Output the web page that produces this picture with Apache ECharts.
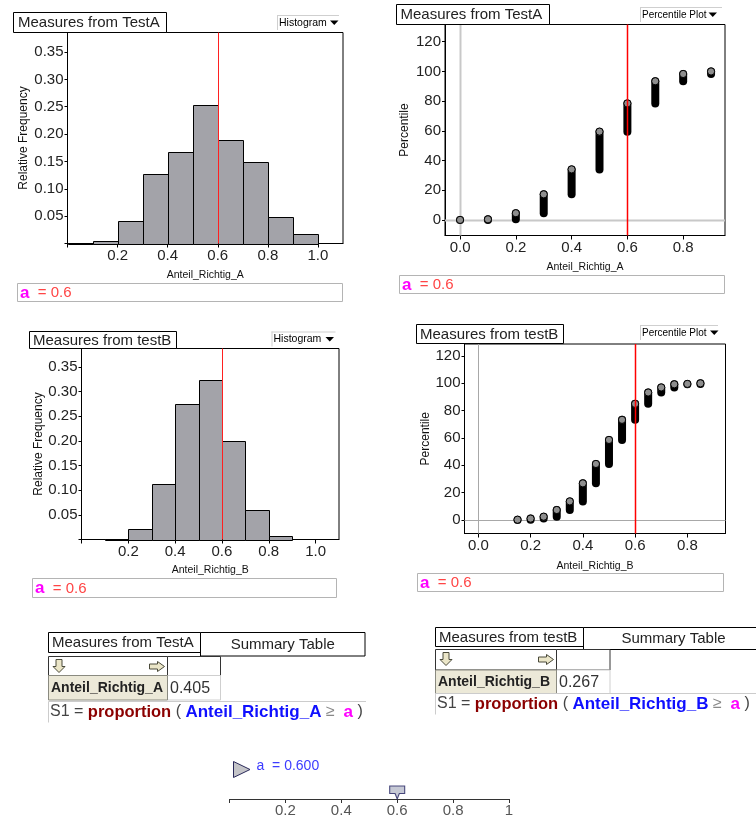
<!DOCTYPE html>
<html><head><meta charset="utf-8">
<script src="https://cdn.jsdelivr.net/npm/echarts@6/dist/echarts.min.js"></script>
<style>html,body{margin:0;padding:0;background:#fff}#c{width:756px;height:819px}</style>
</head><body><div id="c"></div>
<script>
// ---------- data ----------
const A_VALUE = 0.6;
const BIN_WIDTH = 0.1;
const BIN_STARTS = [0, 0.1, 0.2, 0.3, 0.4, 0.5, 0.6, 0.7, 0.8, 0.9, 1.0];
const HIST_A = [0.001, 0.004, 0.041, 0.127, 0.168, 0.254, 0.190, 0.149, 0.048, 0.018, 0];
const HIST_B = [0, 0.002, 0.022, 0.112, 0.274, 0.323, 0.200, 0.060, 0.007, 0, 0];

const PCT_A_X    = [0, 0.1, 0.2, 0.3, 0.4, 0.5, 0.6, 0.7, 0.8, 0.9];
const PCT_A_LOW  = [0, 0.1, 0.5, 4.6, 17.3, 34.1, 59.5, 78.5, 93.4, 98.3];
const PCT_A_HIGH = [0.1, 0.5, 4.6, 17.3, 34.1, 59.5, 78.5, 93.4, 98.3, 100];

const PCT_B_X    = [0.15, 0.2, 0.25, 0.3, 0.35, 0.4, 0.45, 0.5, 0.55, 0.6, 0.65, 0.7, 0.75, 0.8, 0.85];
const PCT_B_LOW  = [0, 0.2, 1.0, 2.4, 7.3, 13.6, 26.8, 41.0, 58.6, 73.3, 85.0, 93.3, 97.0, 99.3, 99.6];
const PCT_B_HIGH = [0.2, 1.0, 2.4, 7.3, 13.6, 26.8, 41.0, 58.6, 73.3, 85.0, 93.3, 97.0, 99.3, 99.6, 100];

const HIST_X_LABELS = ['0.2', '0.4', '0.6', '0.8', '1.0'];
const HIST_Y_LABELS = ['0.05', '0.10', '0.15', '0.20', '0.25', '0.30', '0.35'];
const PCT_X_LABELS  = ['0.0', '0.2', '0.4', '0.6', '0.8'];
const PCT_Y_LABELS  = ['0', '20', '40', '60', '80', '100', '120'];
const SLIDER_LABELS = ['0.2', '0.4', '0.6', '0.8', '1'];
const PROP_A = '0.405';
const PROP_B = '0.267';

// ---------- helpers ----------
const FONT = 'Liberation Sans, Arial, sans-serif';
function fmt(labels) {
  return v => { const m = labels.find(l => Math.abs(parseFloat(l) - v) < 1e-6); return m === undefined ? '' : m; };
}
function nums(labels) { return labels.map(Number); }
function xAx(grid, min, max, labels, tickVals, name, gap) {
  return {
    type: 'value', gridIndex: grid, min, max, position: 'bottom',
    axisLine: { show: true, onZero: false, lineStyle: { color: '#000', width: 1 } },
    axisTick: { show: true, length: 4, lineStyle: { color: '#000' }, customValues: tickVals },
    axisLabel: { margin: 5, fontSize: 15, color: '#222', fontFamily: FONT, formatter: fmt(labels), customValues: nums(labels) },
    splitLine: { show: false },
    name, nameLocation: 'middle', nameGap: gap,
    nameTextStyle: { fontSize: 10.5, color: '#111', fontFamily: FONT }
  };
}
function yAx(grid, min, max, labels, tickVals, name, gap) {
  return {
    type: 'value', gridIndex: grid, min, max, position: 'left',
    axisLine: { show: true, onZero: false, lineStyle: { color: '#000', width: 1 } },
    axisTick: { show: true, length: 3, lineStyle: { color: '#000' }, customValues: tickVals },
    axisLabel: { margin: 4, fontSize: 15, color: '#222', fontFamily: FONT, formatter: fmt(labels), customValues: nums(labels) },
    splitLine: { show: false },
    name, nameLocation: 'middle', nameGap: gap,
    nameTextStyle: { fontSize: 12, color: '#111', fontFamily: FONT }
  };
}
function histSeries(idx, freqs) {
  return {
    type: 'custom', xAxisIndex: idx, yAxisIndex: idx, z: 2,
    data: BIN_STARTS.map((s, i) => [s, s + BIN_WIDTH, freqs[i]]).filter(d => d[2] > 0),
    encode: { x: [0, 1], y: 2 },
    renderItem: (params, api) => {
      const p0 = api.coord([api.value(0), 0]);
      const p1 = api.coord([api.value(1), api.value(2)]);
      return { type: 'rect',
        shape: { x: Math.round(p0[0]) + 0.5, y: Math.round(p1[1]) + 0.5,
                 width: Math.round(p1[0]) - Math.round(p0[0]), height: Math.round(p0[1]) - Math.round(p1[1]) },
        style: { fill: '#a3a3a9', stroke: '#000', lineWidth: 1 } };
    }
  };
}
function pctSeries(idx, xs, lows, highs) {
  return {
    type: 'custom', xAxisIndex: idx, yAxisIndex: idx, z: 3,
    data: xs.map((x, i) => [x, lows[i], highs[i]]),
    encode: { x: 0, y: [1, 2] },
    renderItem: (params, api) => {
      const a = api.coord([api.value(0), api.value(1)]);
      const b = api.coord([api.value(0), api.value(2)]);
      return { type: 'group', children: [
        { type: 'line', shape: { x1: a[0], y1: a[1], x2: b[0], y2: b[1] },
          style: { stroke: '#000', lineWidth: 8, lineCap: 'round' } },
        { type: 'circle', shape: { cx: b[0], cy: b[1], r: 3.6 },
          style: { fill: '#8e8e8e', stroke: '#000', lineWidth: 1 } }
      ] };
    }
  };
}
// vertical (dir 'v') or horizontal (dir 'h') line across a grid at a data value
function guide(idx, dir, value, color, width, z) {
  return {
    type: 'custom', xAxisIndex: idx, yAxisIndex: idx, z, silent: true,
    data: [[dir === 'v' ? value : 0, dir === 'h' ? value : 0]],
    encode: { x: 0, y: 1 },
    renderItem: (params, api) => {
      const cs = params.coordSys;
      const p = api.coord([api.value(0), api.value(1)]);
      const shape = dir === 'v'
        ? { x1: Math.round(p[0]) + 0.5, y1: cs.y, x2: Math.round(p[0]) + 0.5, y2: cs.y + cs.height }
        : { x1: cs.x, y1: Math.round(p[1]) + 0.5, x2: cs.x + cs.width, y2: Math.round(p[1]) + 0.5 };
      return { type: 'line', shape, style: { stroke: color, lineWidth: width } };
    }
  };
}

// ---------- graphic helpers ----------
function box(x, y, w, h, stroke, fill) {
  return { type: 'rect', shape: { x, y, width: w, height: h }, style: { fill: fill || '#fff', stroke: stroke || '#000', lineWidth: 1 }, z: 10 };
}
function ln(x1, y1, x2, y2, stroke) {
  return { type: 'line', shape: { x1, y1, x2, y2 }, style: { stroke, lineWidth: 1 }, z: 11 };
}
function txt(x, y, text, size, color, extra) {
  return Object.assign({ type: 'text', x, y, z: 12,
    style: Object.assign({ text, fontSize: size, fontFamily: FONT, fill: color,
      align: 'left', verticalAlign: 'middle', textAlign: 'left', textVerticalAlign: 'middle' }, extra || {}) });
}
function tri(pts, fill) {
  return { type: 'polygon', shape: { points: pts }, style: { fill, stroke: null }, z: 12 };
}
function dropdown(x, y, w, h, label, tx) {
  return [
    ln(x, y + 0.5, x + w, y + 0.5, '#cfcfcf'), ln(x + 0.5, y, x + 0.5, y + h, '#cfcfcf'),
    txt(x + 2, y + h / 2 + 0.5, label, label === 'Histogram' ? 10.5 : 10, '#000'),
    tri([[tx, y + 5.5], [tx + 8.5, y + 5.5], [tx + 4.25, y + 10]], '#000')
  ];
}
function aBox(x, y, w, h) {
  return [box(x, y, w, h, '#b4b4b4'),
    txt(x + 2.5, y + h / 2 + 0.5, '{m|a}{r|  = 0.6}', 15, '#ff4040', {
      rich: { m: { fontSize: 17, fontWeight: 'bold', fill: '#ff00ff', color: '#ff00ff', fontFamily: FONT },
              r: { fontSize: 15, fill: '#ff4545', color: '#ff4545', fontFamily: FONT } } })];
}
function downArrow(x, y) {
  return { type: 'polygon', z: 12, shape: { points: [[x + 3, y], [x + 9, y], [x + 9, y + 7], [x + 12, y + 7], [x + 6, y + 13], [x, y + 7], [x + 3, y + 7]] },
    style: { fill: '#ebe6c8', stroke: '#4a4a3a', lineWidth: 1 } };
}
function rightArrow(x, y) {
  return { type: 'polygon', z: 12, shape: { points: [[x, y + 2.5], [x + 8, y + 2.5], [x + 8, y], [x + 15, y + 5], [x + 8, y + 10], [x + 8, y + 7.5], [x, y + 7.5]] },
    style: { fill: '#ebe6c8', stroke: '#4a4a3a', lineWidth: 1 } };
}
function formula(x, y, attr) {
  return txt(x, y, '{k|S1 = }{p|proportion}{k| ( }{b|' + attr + '}{g| \u2265  }{m|a}{k| )}', 16, '#444', {
    rich: {
      k: { fontSize: 16, fill: '#444', color: '#444', fontFamily: FONT },
      p: { fontSize: 16.5, fontWeight: 'bold', fill: '#8b0000', color: '#8b0000', fontFamily: FONT },
      b: { fontSize: 17, fontWeight: 'bold', fill: '#1010ff', color: '#1010ff', fontFamily: FONT },
      g: { fontSize: 16, fill: '#888', color: '#888', fontFamily: FONT },
      m: { fontSize: 17, fontWeight: 'bold', fill: '#ff00ff', color: '#ff00ff', fontFamily: FONT }
    } });
}
function table(o) {
  const g = [];
  g.push(box(o.x, o.mTop, o.mW, o.mH, '#000'));
  g.push(txt(o.x + 3.5, o.mTop + o.mH / 2 + 0.5, o.title, 15, '#222'));
  g.push(box(o.x + o.mW, o.mTop, o.sW, o.sH, '#000'));
  g.push(txt(o.x + o.mW + o.sW / 2, o.mTop + o.sH / 2 + 0.5, 'Summary Table', 15, '#222', { align: 'center', textAlign: 'center' }));
  g.push(box(o.x, o.hTop, o.c1W, o.hH, '#333'));
  g.push(box(o.x + o.c1W, o.hTop, o.c2W, o.hH, '#333'));
  g.push(downArrow(o.x + 4.5, o.hTop + 3));
  g.push(rightArrow(o.x + o.c1W - 18, o.hTop + 5));
  const rTop = o.hTop + o.hH;
  g.push(box(o.x + o.c1W, rTop, o.c2W, o.rH, '#cfcfcf', '#fff'));
  g.push(box(o.x, rTop, o.c1W, o.rH, '#8a8a80', '#ece9d8'));
  g.push(txt(o.x + 2.5, rTop + o.rH / 2 + 0.5, o.attr, 14, '#222', { fontWeight: 'bold' }));
  g.push(txt(o.x + o.c1W + 2.5, rTop + o.rH / 2 + 0.5, o.value, 16, '#333'));
  g.push(ln(o.x, o.fTop, o.fRight, o.fTop, '#cccccc'));
  g.push(ln(o.x, o.fTop, o.x, o.fTop + 21, '#cccccc'));
  g.push(formula(o.x + 1.5, o.fTop + 10.5, o.attr));
  return g;
}

const graphics = [].concat(
  [box(13.5, 12.5, 153, 20), txt(18, 23, 'Measures from TestA', 15, '#222')],
  dropdown(277, 15, 62, 15, 'Histogram', 330),
  aBox(17.5, 283.5, 325, 18),
  [box(396.5, 4.5, 153, 20), txt(400.5, 15, 'Measures from TestA', 15, '#222')],
  dropdown(640, 7, 82, 15, 'Percentile Plot', 708.5),
  aBox(399.5, 275.5, 325, 18),
  [box(29.5, 331.5, 147, 17), txt(33, 340.5, 'Measures from testB', 15, '#222')],
  dropdown(271.5, 331.5, 64, 15, 'Histogram', 325.5),
  aBox(32.5, 578.5, 304, 19),
  [box(416.5, 324.5, 147, 19), txt(420, 334.5, 'Measures from testB', 15, '#222')],
  dropdown(640, 325, 78, 15, 'Percentile Plot', 710),
  aBox(417.5, 573.5, 306, 18),
  table({ x: 48.5, mTop: 632.5, mH: 20, mW: 152, sW: 164.5, sH: 23.5, hTop: 656.5, hH: 19, c1W: 119, c2W: 53, rH: 24.5,
          fTop: 701.5, fRight: 366, title: 'Measures from TestA', attr: 'Anteil_Richtig_A', value: PROP_A }),
  table({ x: 435.5, mTop: 627.5, mH: 19, mW: 148, sW: 180, sH: 22, hTop: 649.5, hH: 20.5, c1W: 121, c2W: 53.5, rH: 23.5,
          fTop: 693.5, fRight: 756, title: 'Measures from testB', attr: 'Anteil_Richtig_B', value: PROP_B }),
  [{ type: 'polygon', z: 12, shape: { points: [[233.5, 761.5], [250, 769.5], [233.5, 777.5]] },
     style: { fill: '#c4c4c8', stroke: '#2a2a5a', lineWidth: 1 } },
   txt(256.5, 766, 'a  = 0.600', 14, '#3c3cff')]
);

const HIST_X_TICKS = [0, 0.2, 0.4, 0.6, 0.8, 1.0];
const HIST_Y_TICKS = [0, 0.05, 0.10, 0.15, 0.20, 0.25, 0.30, 0.35];
const PCT_X_TICKS = nums(PCT_X_LABELS);
const PCT_Y_TICKS = nums(PCT_Y_LABELS);
const SLIDER_TICKS = [0, 0.2, 0.4, 0.6, 0.8, 1];

const chart = echarts.init(document.getElementById('c'), null, { renderer: 'canvas' });
chart.setOption({
  backgroundColor: '#fff',
  animation: false,
  grid: [
    { left: 67.5, top: 32.5, width: 275.5, height: 211, show: true, borderColor: '#000', borderWidth: 1, backgroundColor: 'transparent' },
    { left: 445, top: 24.5, width: 280, height: 211, show: true, borderColor: '#000', borderWidth: 1, backgroundColor: 'transparent' },
    { left: 81.5, top: 348.5, width: 257.5, height: 191, show: true, borderColor: '#000', borderWidth: 1, backgroundColor: 'transparent' },
    { left: 464.5, top: 344, width: 261, height: 189.5, show: true, borderColor: '#000', borderWidth: 1, backgroundColor: 'transparent' },
    { left: 229.5, top: 786, width: 279.5, height: 13, show: false }
  ],
  xAxis: [
    xAx(0, 0, 1.1, HIST_X_LABELS, HIST_X_TICKS, 'Anteil_Richtig_A', 26),
    xAx(1, -0.054, 0.95, PCT_X_LABELS, PCT_X_TICKS, 'Anteil_Richtig_A', 26),
    xAx(2, 0, 1.1, HIST_X_LABELS, HIST_X_TICKS, 'Anteil_Richtig_B', 25),
    xAx(3, -0.053, 0.946, PCT_X_LABELS, PCT_X_TICKS, 'Anteil_Richtig_B', 27),
    Object.assign(xAx(4, 0, 1, SLIDER_LABELS, SLIDER_TICKS, '', 0), {
      axisLine: { show: true, onZero: false, lineStyle: { color: '#333', width: 1 } },
      axisTick: { show: true, length: 4, lineStyle: { color: '#333' }, customValues: SLIDER_TICKS },
      axisLabel: { margin: 4, fontSize: 15, color: '#555', fontFamily: FONT, formatter: fmt(SLIDER_LABELS), customValues: nums(SLIDER_LABELS) } })
  ],
  yAxis: [
    yAx(0, 0, 0.3857, HIST_Y_LABELS, HIST_Y_TICKS, 'Relative Frequency', 38),
    yAx(1, -10.4, 131.6, PCT_Y_LABELS, PCT_Y_TICKS, 'Percentile', 34),
    yAx(2, 0, 0.3874, HIST_Y_LABELS, HIST_Y_TICKS, 'Relative Frequency', 37),
    yAx(3, -9.9, 128.8, PCT_Y_LABELS, PCT_Y_TICKS, 'Percentile', 33),
    { type: 'value', gridIndex: 4, min: 0, max: 1, show: false }
  ],
  series: [
    histSeries(0, HIST_A), guide(0, 'v', A_VALUE, '#ff2020', 1, 5),
    guide(1, 'v', 0, '#c8c8c8', 2, 1), guide(1, 'h', 0, '#c8c8c8', 2, 1),
    pctSeries(1, PCT_A_X, PCT_A_LOW, PCT_A_HIGH), guide(1, 'v', A_VALUE, '#ff0000', 1.5, 5),
    histSeries(2, HIST_B), guide(2, 'v', A_VALUE, '#ff2020', 1, 5),
    guide(3, 'v', 0, '#a8a8a8', 1, 1), guide(3, 'h', 0, '#a8a8a8', 1, 1),
    pctSeries(3, PCT_B_X, PCT_B_LOW, PCT_B_HIGH), guide(3, 'v', A_VALUE, '#ff0000', 1.5, 5),
    { type: 'scatter', xAxisIndex: 4, yAxisIndex: 4, clip: false, z: 6,
      data: [[A_VALUE, 0]],
      symbol: 'path://M0,0L14,0L14,7L9,7L7,12L5,7L0,7Z', symbolSize: [15, 13], symbolOffset: [0, -6.5],
      itemStyle: { color: '#b8bccb', borderColor: '#202060', borderWidth: 1 } }
  ],
  graphic: graphics
});
</script>
</body></html>
